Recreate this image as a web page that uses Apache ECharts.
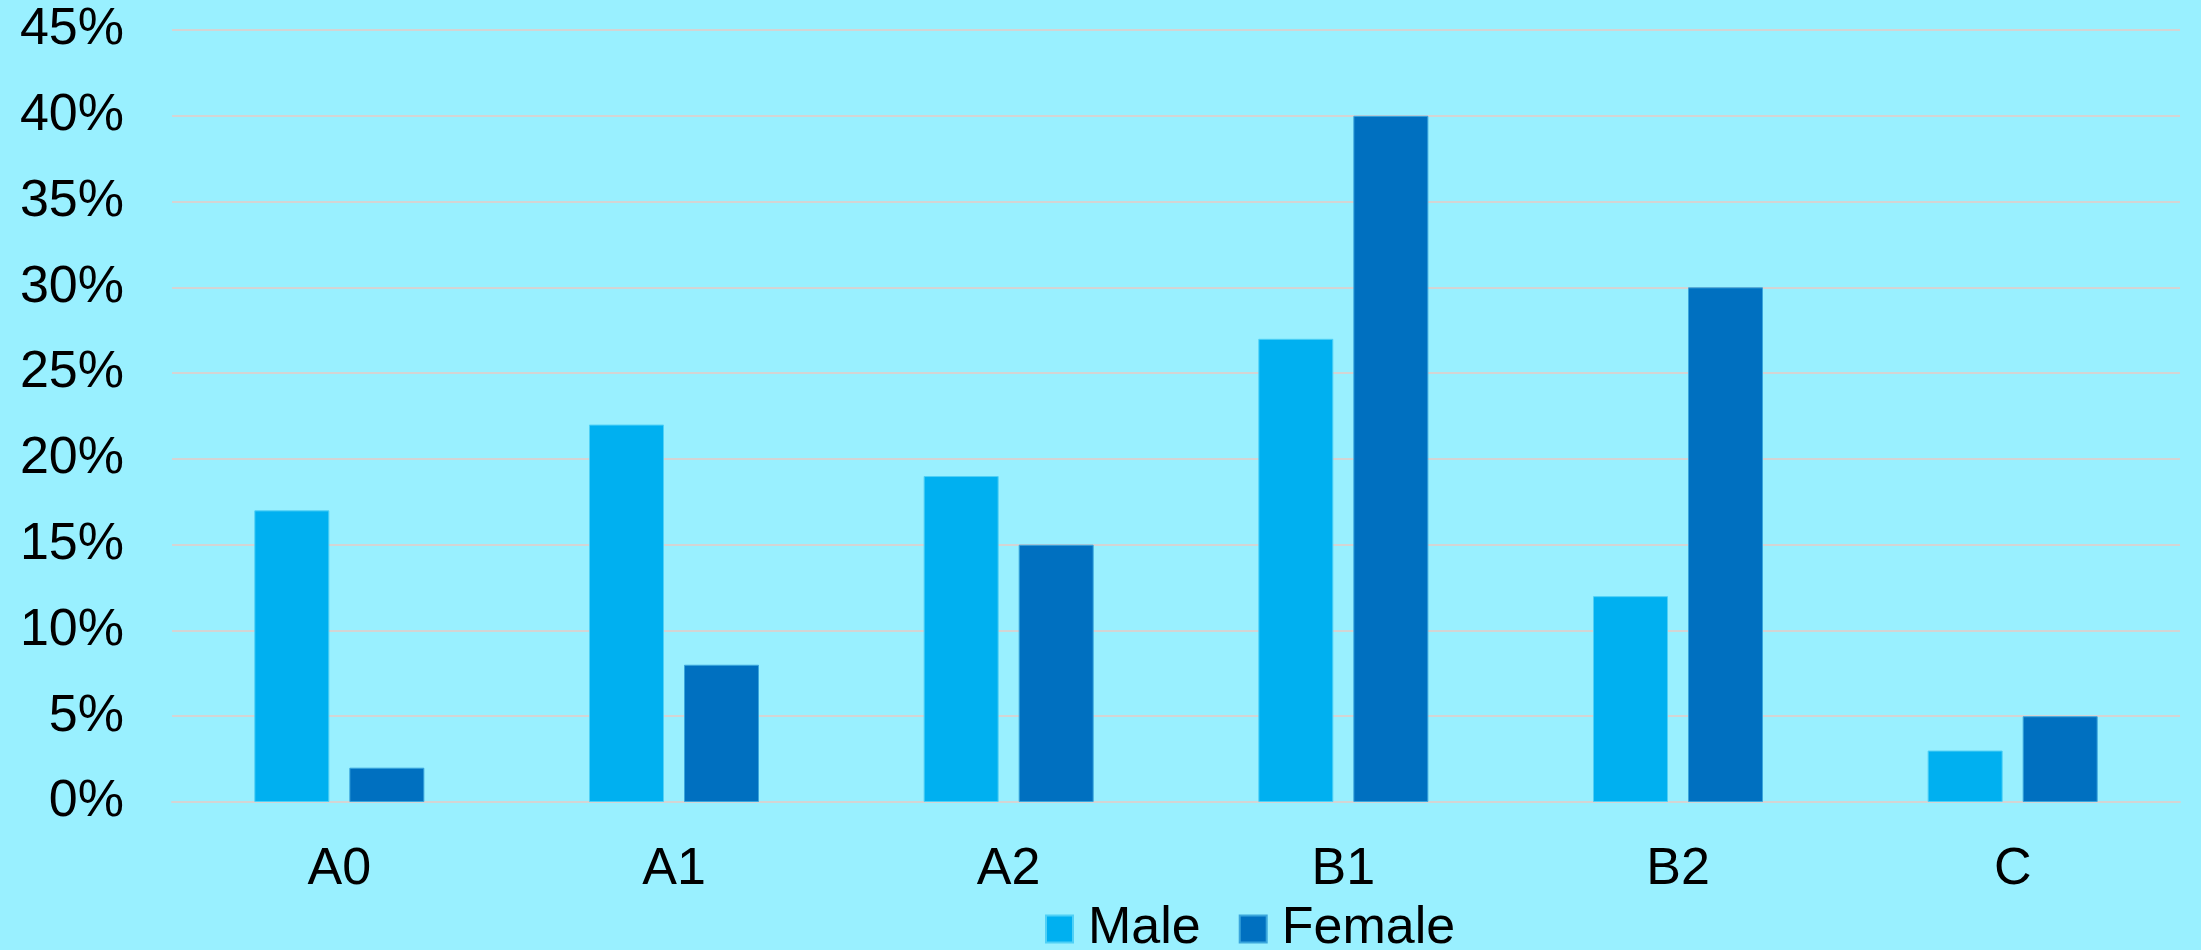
<!DOCTYPE html>
<html>
<head>
<meta charset="utf-8">
<script src="https://cdn.jsdelivr.net/npm/echarts@6/dist/echarts.min.js"></script>
<style>
  html, body { margin: 0; padding: 0; background: #99f0ff; }
  #chart { width: 2201px; height: 950px; }
</style>
</head>
<body>
<div id="chart"></div>
<script>
// Level categories and share of respondents (%) per group
const categories = ['A0', 'A1', 'A2', 'B1', 'B2', 'C'];
const maleValues = [17, 22, 19, 27, 12, 3];
const femaleValues = [2, 8, 15, 40, 30, 5];
const seriesNames = ['Male', 'Female'];

const FONT = '"Liberation Sans", Arial, sans-serif';
const chart = echarts.init(document.getElementById('chart'));

chart.setOption({
  backgroundColor: '#99f0ff',
  animation: false,
  grid: { left: 172, right: 21, top: 30, bottom: 148, containLabel: false },
  legend: {
    data: seriesNames,
    left: 1040,
    top: 898,
    itemWidth: 27,
    itemHeight: 27,
    itemGap: 38,
    icon: 'rect',
    textStyle: { fontFamily: FONT, fontSize: 52, color: '#000', padding: [0, 0, 0, 10] }
  },
  xAxis: {
    type: 'category',
    data: categories,
    axisLine: { show: true, lineStyle: { color: '#d4d4d4', width: 2 } },
    axisTick: { show: false },
    axisLabel: { fontFamily: FONT, fontSize: 52, color: '#000', margin: 42 }
  },
  yAxis: {
    type: 'value',
    min: 0,
    max: 45,
    interval: 5,
    axisLine: { show: false },
    axisTick: { show: false },
    splitLine: { lineStyle: { color: '#d4d4d4', width: 2 } },
    axisLabel: { fontFamily: FONT, fontSize: 52, color: '#000', margin: 48, formatter: '{value}%' }
  },
  series: [
    {
      name: seriesNames[0],
      type: 'bar',
      data: maleValues,
      barWidth: 75,
      barGap: '26.7%',
      itemStyle: { color: '#00b0f0', borderColor: '#4fd0f6', borderWidth: 1 }
    },
    {
      name: seriesNames[1],
      type: 'bar',
      data: femaleValues,
      barWidth: 75,
      itemStyle: { color: '#0070c0', borderColor: '#3aa6dc', borderWidth: 1 }
    }
  ]
});
</script>
</body>
</html>
